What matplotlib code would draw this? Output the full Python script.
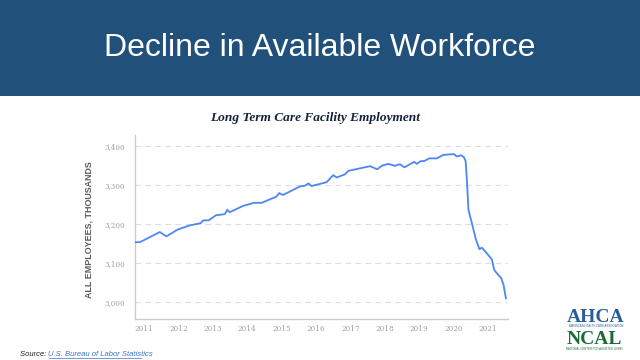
import numpy as np
import matplotlib.pyplot as plt
from matplotlib.patches import Rectangle

# values (decimal year, thousands of employees)
years = [2011.00, 2011.15, 2011.73, 2011.92, 2012.26, 2012.60, 2012.92, 2012.99,
         2013.15, 2013.36, 2013.62, 2013.69, 2013.76, 2014.15, 2014.46, 2014.69,
         2015.12, 2015.20, 2015.31, 2015.80, 2015.95, 2016.05, 2016.14, 2016.58,
         2016.77, 2016.87, 2017.11, 2017.21, 2017.84, 2018.05, 2018.18, 2018.37,
         2018.56, 2018.71, 2018.84, 2019.00, 2019.12, 2019.20, 2019.31, 2019.41,
         2019.56, 2019.78, 2019.97, 2020.28, 2020.36, 2020.49, 2020.57, 2020.62,
         2020.65, 2020.70, 2020.80, 2020.92, 2021.02, 2021.09, 2021.23, 2021.38,
         2021.45, 2021.52, 2021.65, 2021.72, 2021.79]
employees = [3153, 3153, 3179, 3168, 3186, 3196, 3202, 3209,
             3209, 3222, 3225, 3236, 3230, 3246, 3254, 3254,
             3270, 3279, 3274, 3296, 3298, 3304, 3297, 3307,
             3325, 3319, 3327, 3336, 3348, 3340, 3349, 3354,
             3349, 3353, 3345, 3353, 3359, 3354, 3361, 3361,
             3368, 3368, 3377, 3379, 3373, 3376, 3371, 3360,
             3321, 3236, 3202, 3159, 3135, 3139, 3125, 3109,
             3082, 3074, 3061, 3044, 3009]

year_ticks = list(range(2011, 2022))
y_ticks = [3000, 3100, 3200, 3300, 3400]
y_labels = ['3,000', '3,100', '3,200', '3,300', '3,400']

fig = plt.figure(figsize=(6.4, 3.6), dpi=100)
fig.patch.set_facecolor('white')

# header band
fig.patches.append(Rectangle((0, 1 - 96 / 360), 1, 96 / 360, transform=fig.transFigure,
                             facecolor='#21507a', edgecolor='none', zorder=0))
fig.text(0.5, 1 - 48 / 360, 'Decline in Available Workforce', color='white',
         family='Liberation Sans', fontsize=23, ha='center', va='center')

# chart
ax = fig.add_axes([134.7 / 640, 1 - 319 / 360, (508 - 134.7) / 640, (319 - 135) / 360])
ax.plot(years, employees, color='#4f86f5', lw=1.3, zorder=3)
ax.set_xlim(2011.0, 2021.85)
ax.set_ylim(2956, 3428)

ax.set_yticks(y_ticks)
ax.set_yticklabels(y_labels)
ax.set_xticks(year_ticks)
ax.set_xticklabels([str(y) for y in year_ticks], ha='left')
ax.tick_params(axis='both', length=0, labelsize=5.2, labelcolor='#a0a0a0')
ax.tick_params(axis='y', pad=7)
ax.tick_params(axis='x', pad=4)
for lbl in ax.get_xticklabels() + ax.get_yticklabels():
    lbl.set_family('DejaVu Serif')

ax.grid(axis='y', color='#dddddd', ls=(0, (5, 4)), lw=0.8)
ax.set_axisbelow(True)
for s in ['top', 'right']:
    ax.spines[s].set_visible(False)
for s in ['left', 'bottom']:
    ax.spines[s].set_color('#cccccc')
    ax.spines[s].set_linewidth(1.0)

fig.text(89 / 640, 1 - 230 / 360, 'ALL EMPLOYEES, THOUSANDS', rotation=90,
         family='Liberation Sans', fontweight='bold', fontsize=6.4, color='#5a5a5a',
         ha='center', va='center')
fig.text(315 / 640, 1 - 118 / 360, 'Long Term Care Facility Employment',
         family='Liberation Serif', fontweight='bold', style='italic', fontsize=9.6,
         color='#14213a', ha='center', va='center')

# source line
src = fig.text(20 / 640, 1 - 354 / 360, 'Source: ', family='Liberation Sans',
               style='italic', fontsize=5.5, color='#222222', va='center')
fig.canvas.draw()
bb = src.get_window_extent()
fig.text(bb.x1 / 640, 1 - 354 / 360, 'U.S. Bureau of Labor Statistics',
         family='Liberation Sans', style='italic', fontsize=5.5, color='#3b73c9',
         va='center')
fig.add_artist(plt.Line2D([bb.x1 / 640, 141 / 640], [1 - 357.5 / 360] * 2,
                          transform=fig.transFigure, color='#3b73c9', lw=0.5))

# logos as text
fig.text(596 / 640, 1 - 317 / 360, 'AHCA', family='Liberation Serif', fontweight='bold',
         fontsize=14, color='#2a5c9c', ha='center', va='center')
fig.text(596 / 640, 1 - 326 / 360, 'AMERICAN HEALTH CARE ASSOCIATION', family='Liberation Sans',
         fontsize=2, color='#2a5c9c', ha='center', va='center')
fig.text(594 / 640, 1 - 339 / 360, 'NCAL', family='Liberation Serif', fontweight='bold',
         fontsize=14, color='#1e6b3a', ha='center', va='center')
fig.text(594 / 640, 1 - 349 / 360, 'NATIONAL CENTER FOR ASSISTED LIVING', family='Liberation Sans',
         fontsize=2, color='#1e6b3a', ha='center', va='center')

fig.savefig('out.png', dpi=100)
